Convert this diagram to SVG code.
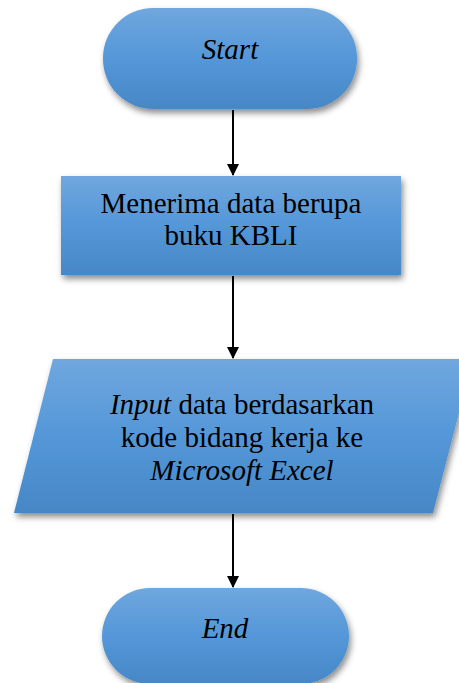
<svg xmlns="http://www.w3.org/2000/svg" width="459" height="683" viewBox="0 0 459 683">
<style>
.shape{fill:url(#g);filter:url(#sh);}
.t{font-family:"Liberation Serif","Times New Roman",serif;font-size:29px;fill:#000;text-anchor:middle;}
.i{font-style:italic;}
.c{stroke:#000;stroke-width:2;fill:none;marker-end:url(#ah);}
</style>
<defs>
<linearGradient id="g" x1="0" y1="0" x2="0" y2="1">
<stop offset="0" stop-color="#70a7de"/>
<stop offset="0.5" stop-color="#5497d8"/>
<stop offset="1" stop-color="#4787c6"/>
</linearGradient>
<filter id="sh" x="-10%" y="-10%" width="125%" height="130%">
<feDropShadow dx="2" dy="4" stdDeviation="3" flood-color="#000" flood-opacity="0.45"/>
</filter>
<marker id="ah" markerWidth="12" markerHeight="12" refX="11" refY="6" orient="auto" markerUnits="userSpaceOnUse">
<path d="M0,0 L12,6 L0,12 Z" fill="#000"/>
</marker>
</defs>
<g id="connectors">
<line class="c" x1="233" y1="110" x2="233" y2="175"/>
<line class="c" x1="233" y1="276" x2="233" y2="358"/>
<line class="c" x1="233" y1="514" x2="233" y2="587"/>
</g>
<g id="start">
<rect class="shape" x="103" y="8" width="254" height="101" rx="50" ry="50"/>
<text class="t i" x="230" y="59">Start</text>
</g>
<g id="receive">
<rect class="shape" x="61" y="176" width="340" height="99"/>
<text class="t" x="231" y="213">Menerima data berupa</text>
<text class="t" x="231" y="245">buku KBLI</text>
</g>
<g id="input">
<polygon class="shape" points="53,359 473,359 433,513 14,513"/>
<text class="t" x="242" y="414"><tspan class="i">Input</tspan> data berdasarkan</text>
<text class="t" x="242" y="447">kode bidang kerja ke</text>
<text class="t i" x="242" y="480">Microsoft Excel</text>
</g>
<g id="end">
<rect class="shape" x="102" y="588" width="247" height="96" rx="48" ry="48"/>
<text class="t i" x="225" y="638">End</text>
</g>
</svg>
